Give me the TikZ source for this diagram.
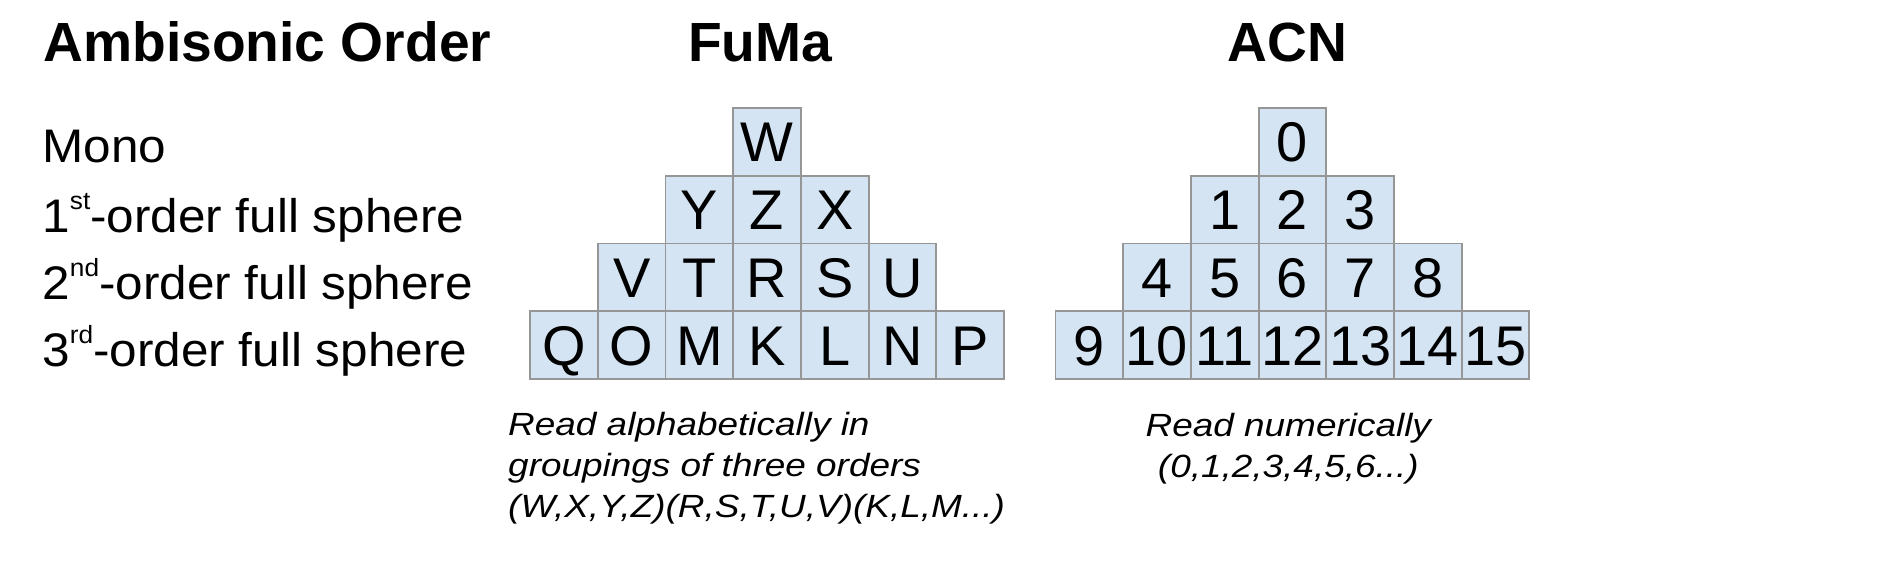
\documentclass[tikz,border=0pt]{standalone}
\usepackage{fontspec}
\setmainfont{Liberation Sans}
\newfontfamily\labelfont[FakeStretch=1.05]{Liberation Sans}
\newfontfamily\notefont[FakeStretch=1.15]{Liberation Sans}
\usepackage{tikz}
\usetikzlibrary{calc}
\usetikzlibrary{positioning}
\definecolor{cellblue}{RGB}{212,228,243}
\definecolor{cellgray}{RGB}{150,150,150}
\newcommand{\ordsup}[1]{\raisebox{9.7pt}{\fontsize{10.5pt}{12pt}\selectfont #1}}

\begin{document}
\begin{tikzpicture}[
Cell/.style={draw=cellgray,fill=cellblue,line width=0.8pt,minimum size=1cm,inner sep=0pt,
  text height=16.8pt,text depth=0pt,font=\fontsize{23.5pt}{28pt}\selectfont},
Heading/.style={inner sep=0pt,anchor=base,font=\fontsize{23.2pt}{28pt}\selectfont\bfseries},
RowLabel/.style={inner sep=0pt,anchor=base west,font=\labelfont\fontsize{19.8pt}{24pt}\selectfont},
Note/.style={inner sep=0pt,font=\notefont\itshape\fontsize{13.5pt}{17.2pt}\selectfont}
]
\useasboundingbox (0,0) rectangle (28.006,8.567);

% top cells of the two pyramids
\coordinate (FuMaTop) at (11.33,6.47);
\coordinate (ACNTop) at (19.09,6.47);

\node[Heading,anchor=base west] (title) at (0.635,7.651) {Ambisonic Order};
\node[Heading] (fumahead) at (11.23,7.651) {FuMa};
\node[Heading] (acnhead) at (19.02,7.651) {ACN};

\node[RowLabel] (mono) at (0.62,6.16) {Mono};
\node[RowLabel] (first) at (0.62,5.13) {1\ordsup{st}-order full sphere};
\node[RowLabel] (second) at (0.62,4.14) {2\ordsup{nd}-order full sphere};
\node[RowLabel] (third) at (0.62,3.15) {3\ordsup{rd}-order full sphere};

% FuMa channels, one row per order
\foreach \row/\chans in {0/{W},1/{Y,Z,X},2/{V,T,R,S,U},3/{Q,O,M,K,L,N,P}}
  \foreach \ch [count=\i from 0] in \chans
    \node[Cell] (fuma-\ch) at ($(FuMaTop)+(\i-\row,-\row)$) {\ch};

% ACN channels, numbered row after row
\foreach \row in {0,...,3}{
  \pgfmathtruncatemacro{\last}{2*\row}
  \foreach \i in {0,...,\last}{
    \pgfmathtruncatemacro{\acn}{\row*\row+\i}
    \node[Cell] (acn-\acn) at ($(ACNTop)+(\i-\row,-\row)$) {\acn};
  }
}

% base of a multi-line node is its last line
\node[Note,anchor=base west,align=left] (fumanote) at (7.50,0.93)
  {Read alphabetically in\\groupings of three orders\\(W,X,Y,Z)(R,S,T,U,V)(K,L,M...)};
\node[Note,anchor=base,align=center] (acnnote) at (19.03,1.51)
  {Read numerically\\(0,1,2,3,4,5,6...)};

\end{tikzpicture}
\end{document}
